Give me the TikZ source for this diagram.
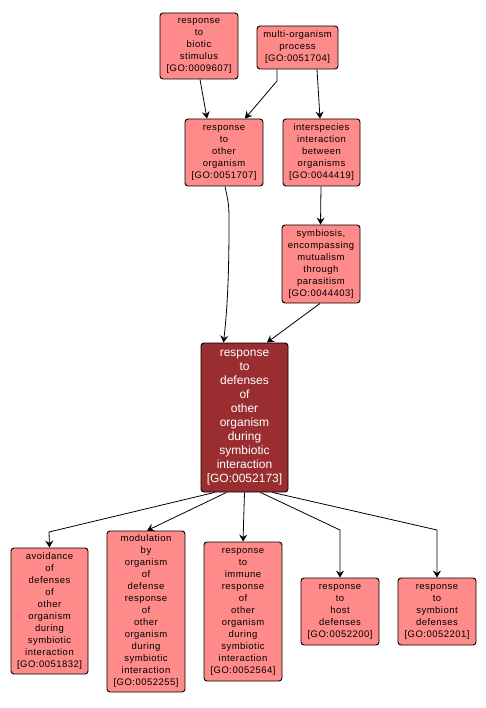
\documentclass[tikz,border=0pt]{standalone}
\usepackage{fontspec}
\setmainfont{Liberation Sans}
\newfontfamily\spacedfont[LetterSpace=5]{Liberation Sans}
\usetikzlibrary{arrows.meta}
\definecolor{lightfill}{HTML}{FF8A8A}
\definecolor{darkfill}{HTML}{9A2D2F}
\tikzset{
  lbox/.style={draw=black, line width=0.9pt, fill=lightfill, rounded corners=3pt,
    align=center, inner sep=0pt, font=\spacedfont\fontsize{9.5}{12}\selectfont},
  dbox/.style={draw=black, line width=0.9pt, fill=darkfill, rounded corners=3pt,
    align=center, inner sep=0pt, text=white, font=\fontsize{12}{14}\selectfont},
  edge/.style={draw=black, line width=0.8pt, -{Stealth[length=7pt,width=8pt,inset=2.5pt]}}
}
\begin{document}
\begin{tikzpicture}[x=1pt,y=-1pt]
\useasboundingbox (0,0) rectangle (486,708);
\fill[white] (0,0) rectangle (486,708);
\node[lbox, minimum width=78, minimum height=66] (biotic) at (199,46) {response\\to\\biotic\\stimulus\\{[GO:0009607]}};
\node[lbox, minimum width=81, minimum height=43] (multi) at (297.5,47.5) {multi-organism\\process\\{[GO:0051704]}};
\node[lbox, minimum width=78, minimum height=67] (other) at (224,152.5) {response\\to\\other\\organism\\{[GO:0051707]}};
\node[lbox, minimum width=77, minimum height=67] (inter) at (321.5,152.5) {interspecies\\interaction\\between\\organisms\\{[GO:0044419]}};
\node[lbox, minimum width=78, minimum height=78] (symb) at (321,264) {symbiosis,\\encompassing\\mutualism\\through\\parasitism\\{[GO:0044403]}};
\node[dbox, minimum width=87, minimum height=149] (central) at (244.5,417.5) {response\\to\\defenses\\of\\other\\organism\\during\\symbiotic\\interaction\\{[GO:0052173]}};
\node[lbox, minimum width=77, minimum height=126] (avoid) at (49.5,611) {avoidance\\of\\defenses\\of\\other\\organism\\during\\symbiotic\\interaction\\{[GO:0051832]}};
\node[lbox, minimum width=78, minimum height=161] (modul) at (146,611.5) {modulation\\by\\organism\\of\\defense\\response\\of\\other\\organism\\during\\symbiotic\\interaction\\{[GO:0052255]}};
\node[lbox, minimum width=78, minimum height=139] (immune) at (243,611.5) {response\\to\\immune\\response\\of\\other\\organism\\during\\symbiotic\\interaction\\{[GO:0052564]}};
\node[lbox, minimum width=78, minimum height=67] (host) at (340,611.5) {response\\to\\host\\defenses\\{[GO:0052200]}};
\node[lbox, minimum width=78, minimum height=67] (symbiont) at (437,611.5) {response\\to\\symbiont\\defenses\\{[GO:0052201]}};
% edges
\coordinate (m1) at (277,81);
\coordinate (c1) at (229,225);
\coordinate (a1) at (49,532);
\coordinate (h1) at (340,530);
\coordinate (s1) at (437,530);
\draw[edge] ([xshift=1pt]biotic.south) -- ([xshift=-17pt]other.north);
\draw[edge] ([xshift=-20.5pt]multi.south) -- (m1) -- ([xshift=21pt]other.north);
\draw[edge] ([xshift=19.5pt]multi.south) -- ([xshift=-1.5pt]inter.north);
\draw[edge] ([xshift=1pt]other.south) .. controls (229,205) .. (c1) .. controls (229,290) and (226,320) .. ([xshift=-21pt]central.north);
\draw[edge] ([xshift=-0.5pt]inter.south) -- ([xshift=-0.5pt]symb.north);
\draw[edge] ([xshift=-1pt]symb.south) -- ([xshift=22.5pt]central.north);
\draw[edge] ([xshift=-30pt]central.south) -- (a1) -- (avoid.north);
\draw[edge] ([xshift=-18pt]central.south) -- ([xshift=1pt]modul.north);
\draw[edge] ([xshift=0pt]central.south) -- (immune.north);
\draw[edge] ([xshift=16pt]central.south) -- (h1) -- (host.north);
\draw[edge] ([xshift=28pt]central.south) -- (s1) -- (symbiont.north);
\end{tikzpicture}
\end{document}
